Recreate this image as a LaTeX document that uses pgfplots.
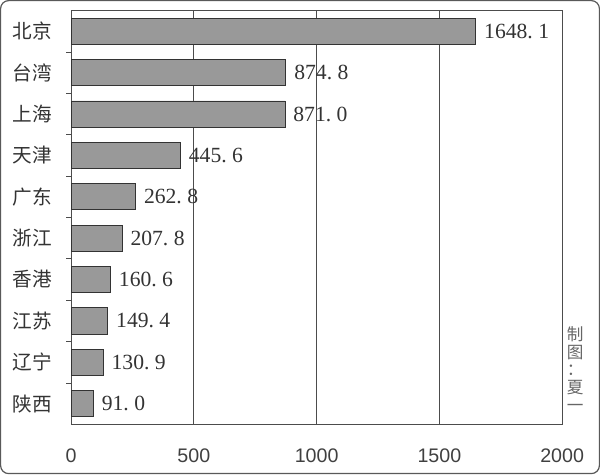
\documentclass[border=0pt]{standalone}
\usepackage{pgfplots}
\pgfplotsset{compat=1.18}
\usepackage{fontspec}
\setmainfont{Liberation Serif}
\newfontfamily\cjk{Noto Sans CJK SC}
\newfontfamily\sansnum{Liberation Sans}
\begin{document}
\begin{tikzpicture}
\begin{axis}[
  scale only axis, width=488pt, height=411pt,
  xmin=0, xmax=2000, ymin=-0.5, ymax=9.5,
  xbar, bar width=26pt,
  xtick={0,500,1000,1500,2000},
  xmajorgrids, grid style={draw=black!70, line width=0.8pt},
  major tick length=0pt,
  axis line style={draw=black!70, line width=0.8pt},
  ytick={0,...,9},
  yticklabels={陕西,辽宁,江苏,香港,浙江,广东,天津,上海,台湾,北京},
  yticklabel style={font=\cjk\fontsize{19.5}{20}\selectfont, text=black!80, inner sep=0pt, xshift=-19pt},
  xticklabel style={font=\sansnum\fontsize{19.5}{20}\selectfont, text=black!75, inner sep=0pt, yshift=-24pt},
  /pgf/number format/assume math mode=true,
  /pgf/number format/1000 sep={},
  extra y ticks={0.5,1.5,2.5,3.5,4.5,5.5,6.5,7.5,8.5},
  extra y tick labels={},
  extra y tick style={major tick length=5pt, tick style={draw=black!70, line width=0.8pt}},
  ytick pos=left,
  point meta=x,
  nodes near coords,
  nodes near coords style={font=\fontsize{21.5}{23}\selectfont, text=black!80, anchor=west, inner sep=0pt, xshift=8pt,
    /pgf/number format/.cd, fixed, fixed zerofill, precision=1, 1000 sep={}, dec sep={.\hspace{0.25em}}, assume math mode=true},
]
\addplot[fill=black!40, draw=black!80, line width=0.8pt] coordinates {
  (91.0,0) (130.9,1) (149.4,2) (160.6,3) (207.8,4)
  (262.8,5) (445.6,6) (871.0,7) (874.8,8) (1648.1,9)};
\end{axis}
\draw[black!65, line width=1.2pt, rounded corners=8pt]
  ([xshift=-70pt,yshift=-49pt]current axis.south west) rectangle
  ([xshift=37pt,yshift=10pt]current axis.north east);
\node[font=\cjk\fontsize{16.5}{17.5}\selectfont, text=black!60, align=center, anchor=south, inner sep=0pt]
  at ([xshift=13pt,yshift=13pt]current axis.south east) {制\\图\\：\\夏\\一};
\end{tikzpicture}
\end{document}
